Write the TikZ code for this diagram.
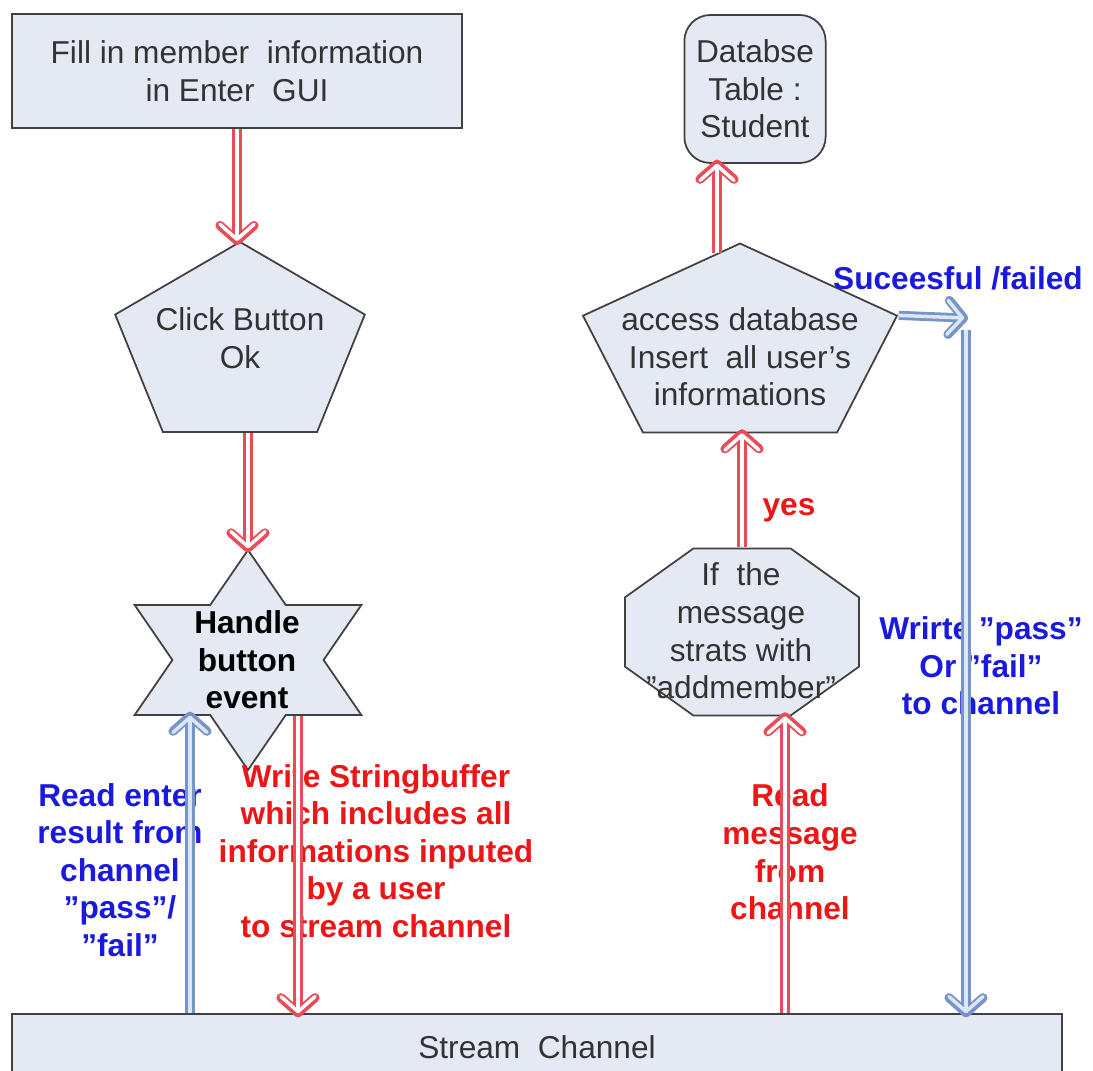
\documentclass[tikz,border=0pt]{standalone}
\usepackage{fontspec}
\setmainfont{Liberation Sans}
\usetikzlibrary{shapes.geometric,arrows.meta}
\definecolor{casella}{RGB}{228,233,244}
\definecolor{bordo}{RGB}{64,64,64}
\definecolor{rossofr}{RGB}{232,76,86}
\definecolor{blufr}{RGB}{118,148,200}
\definecolor{blufill}{RGB}{220,230,246}
\definecolor{rossotx}{RGB}{236,22,22}
\definecolor{blutx}{RGB}{26,26,222}
\begin{document}
\begin{tikzpicture}[x=0.1mm, y=-0.1mm,
      blocco/.style={draw=bordo, fill=casella, line width=0.5pt},
      testo/.style={align=center, text=black!80, font=\fontsize{9}{10.7}\selectfont},
      rosso/.style={align=center, text=rossotx, font=\fontsize{9}{10.7}\selectfont\bfseries},
      blu/.style={align=center, text=blutx, font=\fontsize{9}{10.7}\selectfont\bfseries},
      punta/.style={-{Straight Barb[length=1.5mm, width=3.4mm, round]}},
      rfreccia/.style={punta, draw=white, line width=1pt, shorten >=-0.02mm,
        preaction={punta, draw=rossofr, line width=2.6pt, shorten >=-0.42mm}},
      bfreccia/.style={punta, draw=blufill, line width=1pt, shorten >=-0.02mm,
        preaction={punta, draw=blufr, line width=2.6pt, shorten >=-0.42mm}}]

  \useasboundingbox (0,0) rectangle (1093,1071);
  \clip (0,0) rectangle (1093,1071);

  %% --- colonna sinistra: GUI ---
  \node[blocco, testo, minimum width=45mm, minimum height=11.4mm] (fill) at (237,71)
    {Fill in member\ \ information\\in Enter\ \ GUI};

  \begin{scope}[shift={(240,347)}, xscale=1.25]
    \node[blocco, regular polygon, regular polygon sides=5, minimum size=21mm,
      inner sep=0pt, transform shape] (click) at (0,0) {};
  \end{scope}
  \node[testo] (clicktxt) at (240,338) {Click Button\\Ok};

  \begin{scope}[shift={(248,660)}, xscale=1.19]
    \node[blocco, star, star points=6, star point ratio=1.732, minimum size=22mm,
      inner sep=0pt, transform shape] (hev) at (0,0) {};
  \end{scope}
  \node[testo, text=black, font=\fontsize{9}{10.7}\selectfont\bfseries] (hevtxt) at (247,660)
    {Handle\\button\\event};

  %% --- colonna destra: server ---
  \node[blocco, testo, rounded corners=2.6mm, minimum width=12.7mm, minimum height=14.8mm]
    (db) at (755,89) {Databse\\Table :\\Student};

  \begin{scope}[shift={(740,348)}, xscale=1.58]
    \node[blocco, regular polygon, regular polygon sides=5, minimum size=20.9mm,
      inner sep=0pt, transform shape] (acc) at (0,0) {};
  \end{scope}
  \node[testo] (acctxt) at (740,357) {access database\\Insert\ \ all user’s\\informations};

  \begin{scope}[shift={(742,632)}, xscale=1.4]
    \node[blocco, regular polygon, regular polygon sides=8, minimum size=18.1mm,
      inner sep=0pt, transform shape] (ifmsg) at (0,0) {};
  \end{scope}
  \node[testo] (ifmsgtxt) at (741,631) {If\ \ the\\message\\strats with\\”addmember”};

  \node[blocco, testo, minimum width=105mm, minimum height=6.6mm] (stream) at (537,1047)
    {Stream\ \ Channel};

  %% --- etichette ---
  \node[blu] (succ) at (958,278) {Suceesful /failed};
  \node[rosso] (yes) at (789,510) {yes};
  \node[blu] (wpass) at (981,666) {Wrirte ”pass”\\Or ”fail”\\to channel};
  \node[rosso] (rmsg) at (790,852) {Read\\message\\from\\channel};
  \node[blu] (renter) at (120,870) {Read enter\\result from\\channel\\”pass”/\\”fail”};
  \node[rosso] (wsb) at (376,851)
    {Write Stringbuffer\\which includes all\\informations inputed\\by a user\\to stream channel};

  %% --- frecce ---
  \coordinate (rwx) at (298,0);
  \coordinate (bwx) at (190,0);
  \coordinate (rmx) at (785,0);
  \coordinate (turn) at (964,318);
  \coordinate (turnlow) at ([xshift=0.2mm,yshift=-1.2mm]turn);
  \coordinate (dbfoot) at ([xshift=-2.3mm,yshift=-1.05mm]acc.corner 1);

  \draw[rfreccia] (fill.south) -- (fill.south |- click.corner 1);
  \draw[rfreccia] (hev.outer point 1 |- click.south) -- (hev.outer point 1);
  \draw[rfreccia] (rwx |- hev.inner point 4) -- (rwx |- stream.north);
  \draw[bfreccia] (bwx |- stream.north) -- (bwx |- hev.inner point 3);
  \draw[rfreccia] (rmx |- stream.north) -- (rmx |- ifmsg.south);
  \draw[rfreccia] (ifmsg.north) -- (ifmsg.north |- acc.south);
  \draw[rfreccia] (dbfoot) -- (dbfoot |- db.south);
  \draw[bfreccia] (acc.corner 5) -- (turn);
  \draw[bfreccia] (turnlow) -- (turnlow |- stream.north);

\end{tikzpicture}
\end{document}
